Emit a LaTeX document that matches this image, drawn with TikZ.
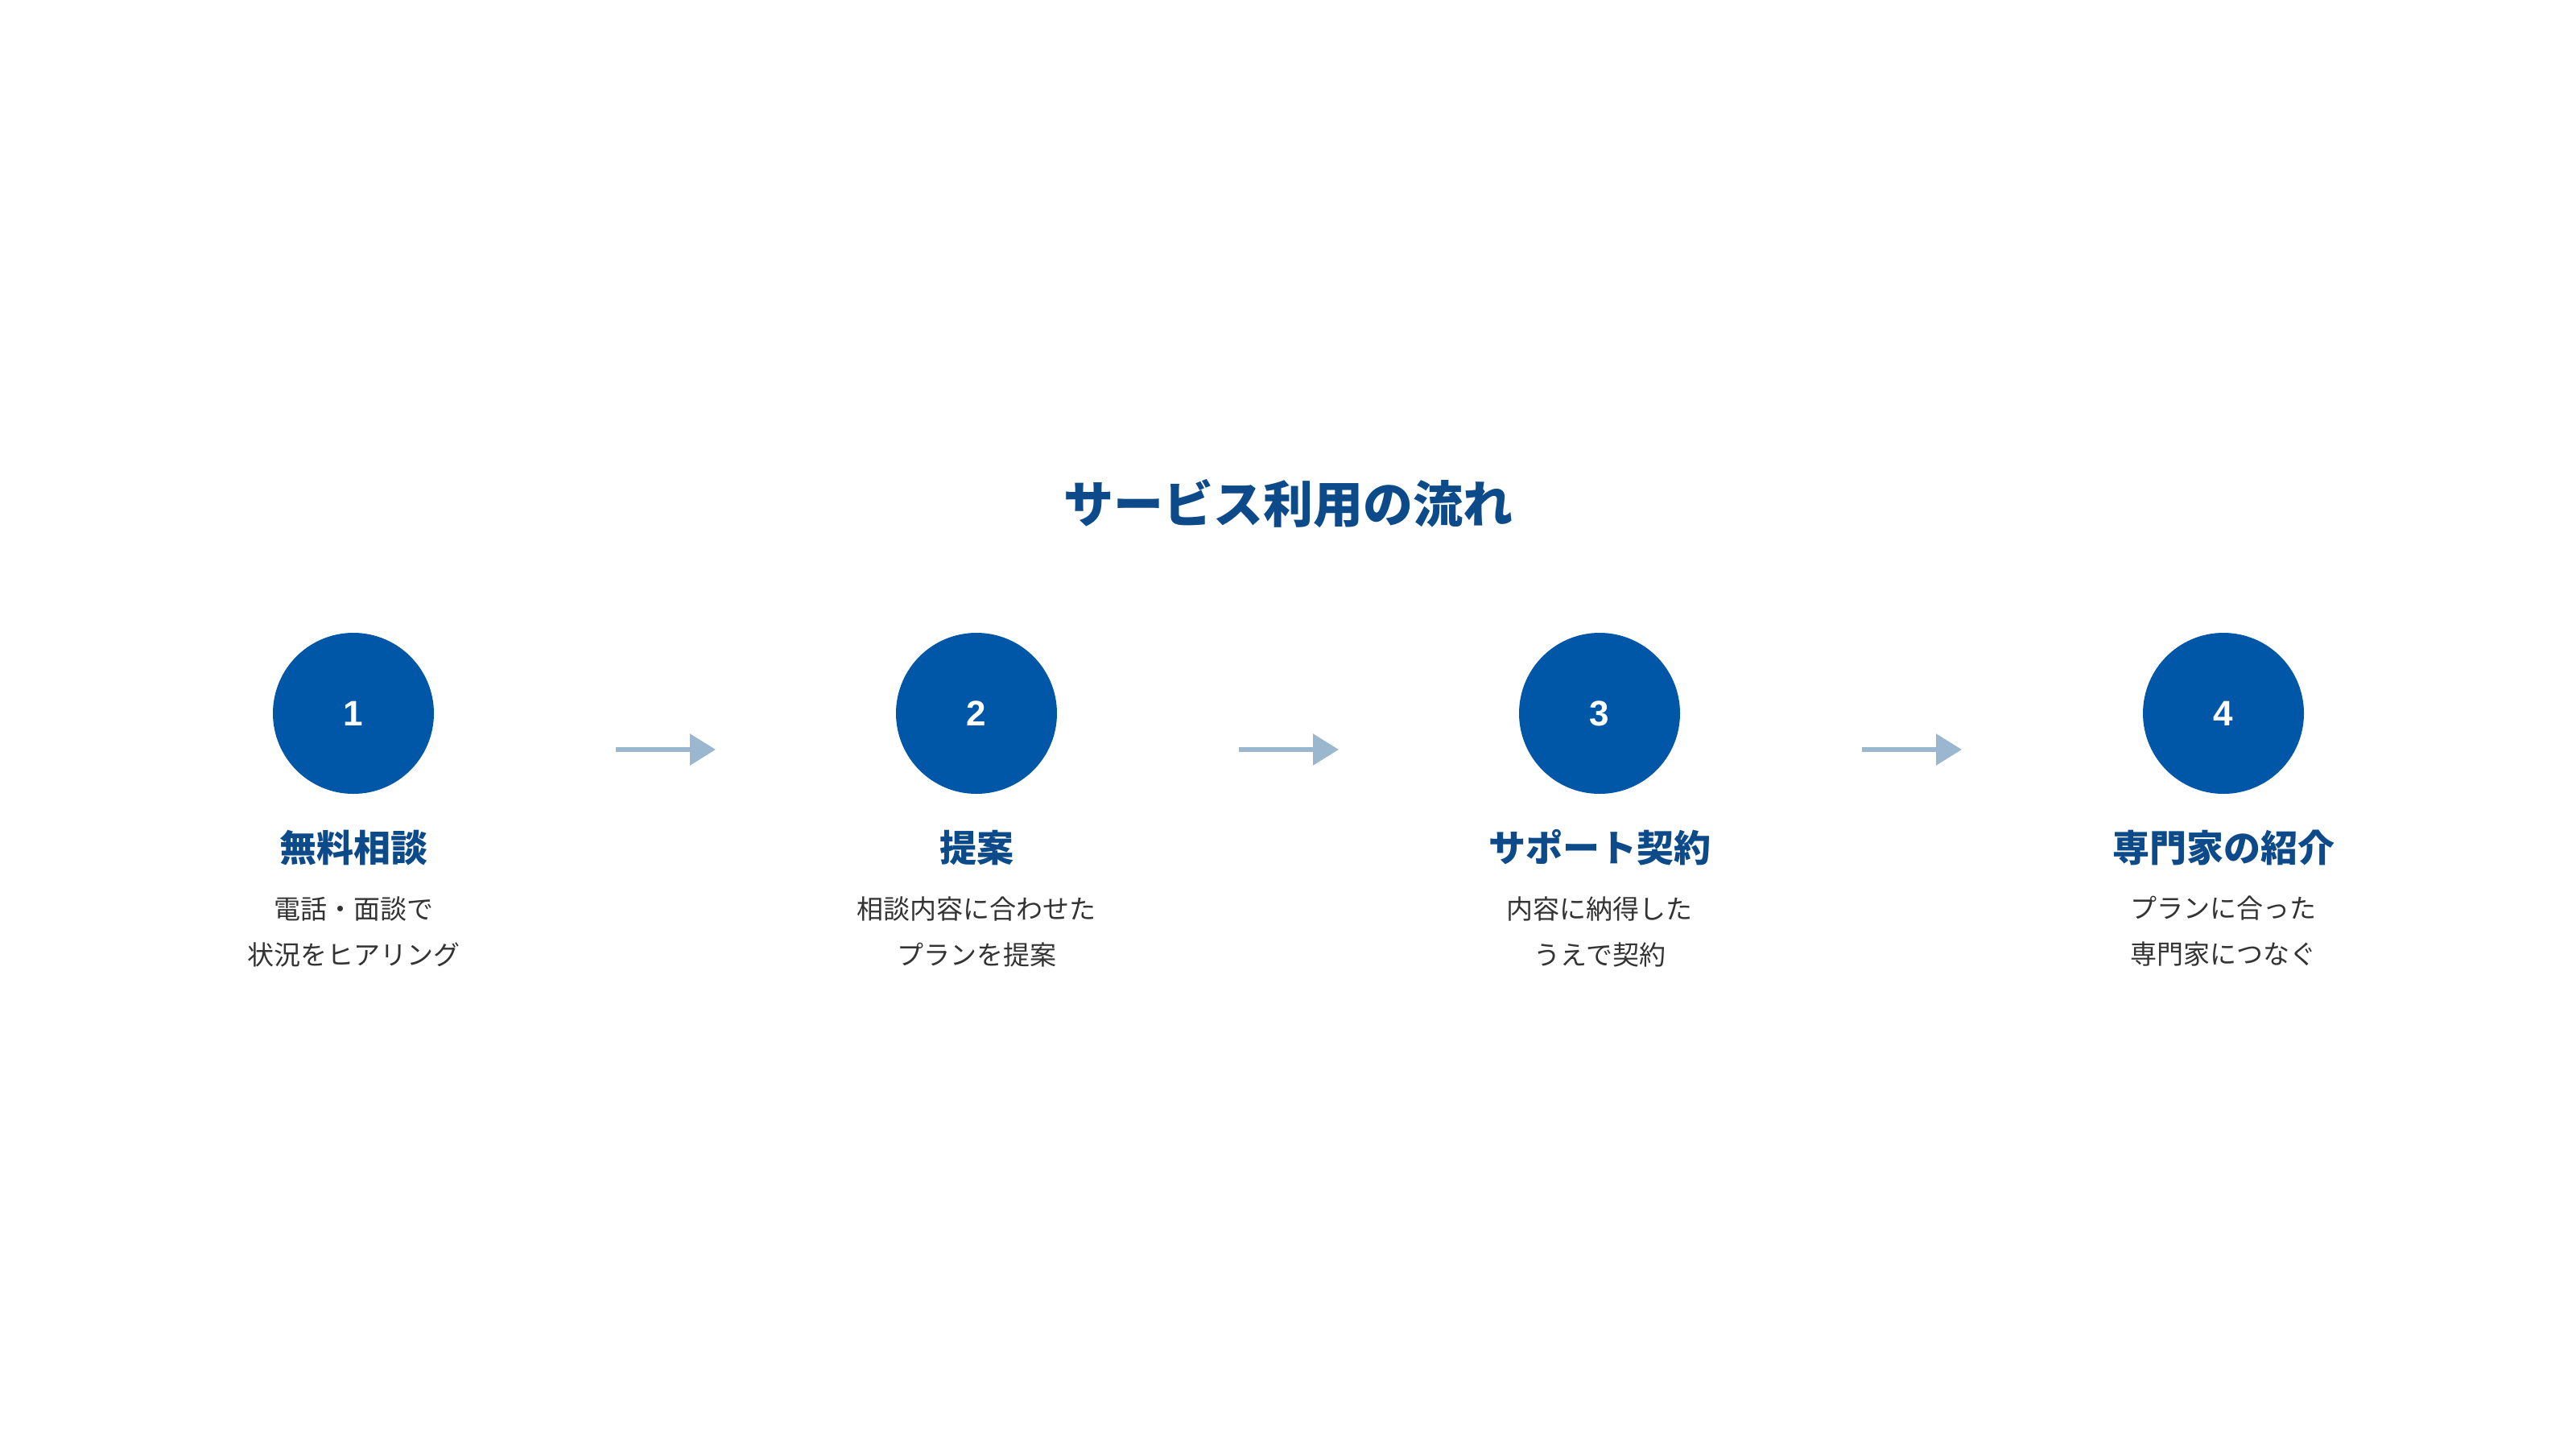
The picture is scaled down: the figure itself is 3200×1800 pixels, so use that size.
\documentclass[tikz,border=0pt]{standalone}
\usepackage{fontspec}
\setmainfont{Noto Sans CJK JP}
\newfontfamily\numfont{Liberation Sans}
\usetikzlibrary{arrows.meta}
\definecolor{cblue}{HTML}{0057A8}
\definecolor{tblue}{HTML}{0D4A8A}
\definecolor{agray}{HTML}{9BB7D0}
\definecolor{dgray}{HTML}{333333}
\begin{document}
\begin{tikzpicture}[x=1pt,y=-1pt,
  circ/.style={circle,fill=cblue,minimum size=200pt,inner sep=0pt,text=white,font=\numfont\bfseries\fontsize{44}{44}\selectfont},
  head/.style={text=tblue,font=\bfseries\fontsize{46}{50}\selectfont},
  desc/.style={text=dgray,align=center,font=\fontsize{33}{57}\selectfont},
  arr/.style={draw=agray,line width=6pt,-{Triangle[length=32pt,width=38pt]}}]
\useasboundingbox (0,0) rectangle (3200,1800);
\node[text=tblue,font=\bfseries\fontsize{62}{62}\selectfont] (title) at (1600,626) {サービス利用の流れ};
\foreach \i/\x/\h/\d in {1/439/無料相談/電話・面談で\\状況をヒアリング,
  2/1213/提案/相談内容に合わせた\\プランを提案,
  3/1987/サポート契約/内容に納得した\\うえで契約,
  4/2762/専門家の紹介/プランに合った\\専門家につなぐ}{
  \node[circ] (c\i) at (\x,886) {\i};
  \node[head] (h\i) at (\x,1053) {\h};
  \node[desc] (d\i) at (\x,1157) {\d};
}
\foreach \a/\x in {1/765,2/1539,3/2313}{
  \coordinate (s\a) at (\x,931);
  \coordinate (e\a) at (\x+124,931);
  \draw[arr] (s\a) -- (e\a);
}
\end{tikzpicture}
\end{document}
